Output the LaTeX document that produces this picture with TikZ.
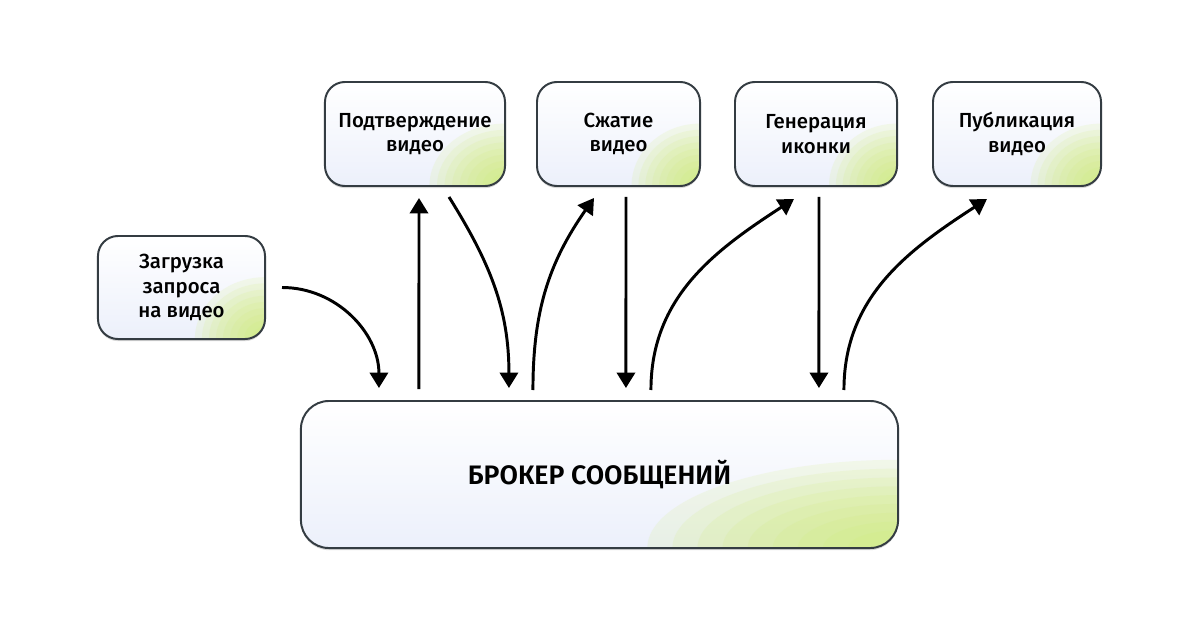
\documentclass[tikz,border=0pt]{standalone}
\usepackage{fontspec}
\setmainfont{Fira Sans}[UprightFont=* Medium, BoldFont=* SemiBold]
\usetikzlibrary{arrows.meta, positioning, shadows, calc}

\definecolor{edgecol}{HTML}{343C42}
\definecolor{lavcol}{HTML}{ECF0FB}
\definecolor{limecol}{HTML}{CFEC72}

\tikzset{
  box/.style={draw=edgecol, line width=1.4pt, rounded corners=0.5cm, align=center,
    top color=white, bottom color=lavcol,
    drop shadow={shadow xshift=0pt, shadow yshift=-1.5pt, opacity=0.3},
    font=\fontsize{14.5}{17.5}\selectfont,
    path picture={
      \foreach \r in {1,0.9,...,0.1}
        \fill[limecol, opacity=0.14] let \p1=(path picture bounding box.south west),
          \p2=(path picture bounding box.north east) in
          (path picture bounding box.south east) ellipse [x radius={0.42*\r*(\x2-\x1)}, y radius={0.6*\r*(\y2-\y1)}];
    }},
  flow/.style={-{Triangle[length=11pt,width=13pt]}, line width=2.1pt}
}

\begin{document}
\begin{tikzpicture}[x=0.025cm, y=-0.025cm]
  \useasboundingbox[fill=white] (0,0) rectangle (1200,630);

  % stages
  \node[box, minimum width=4.5cm, minimum height=2.6cm] (pod) at (415,134) {Подтверждение\\видео};
  \node[box, minimum width=4.075cm, minimum height=2.6cm] (szh) at (618.5,134) {Сжатие\\видео};
  \node[box, minimum width=4.05cm, minimum height=2.6cm] (gen) at (816,134) {Генерация\\иконки};
  \node[box, minimum width=4.2cm, minimum height=2.6cm] (pub) at (1017,134) {Публикация\\видео};
  \node[box, minimum width=4.175cm, minimum height=2.575cm] (zag) at (181.5,287.5) {Загрузка\\запроса\\на видео};

  % broker
  \node[box, minimum width=14.925cm, minimum height=3.675cm, rounded corners=0.7cm,
        font=\fontsize{19}{22}\selectfont\bfseries] (broker) at (599.5,474.5) {БРОКЕР СООБЩЕНИЙ};

  % flows
  \draw[flow] ($(zag.east)+(16,0)$) to[out=0,in=90] ($(broker.north west)+(79,-12)$);
  \draw[flow] ($(broker.north west)+(119,-11)$) -- ($(pod.south west)+(95,11)$);
  \draw[flow] ($(pod.south west)+(125,10)$) to[out=-58,in=90] ($(broker.north west)+(209,-12)$);
  \draw[flow] ($(broker.north west)+(233,-10)$) to[out=90,in=235] ($(szh.south west)+(58,11)$);
  \draw[flow] ($(szh.south west)+(90,10)$) -- ($(broker.north west)+(326,-12)$);
  \draw[flow] ($(broker.north west)+(351,-10)$) to[out=90,in=213] ($(gen.south west)+(60,12)$);
  \draw[flow] ($(gen.south west)+(85,10)$) -- ($(broker.north west)+(519,-12)$);
  \draw[flow] ($(broker.north west)+(544,-10)$) to[out=90,in=213] ($(pub.south west)+(55,12)$);
\end{tikzpicture}
\end{document}
